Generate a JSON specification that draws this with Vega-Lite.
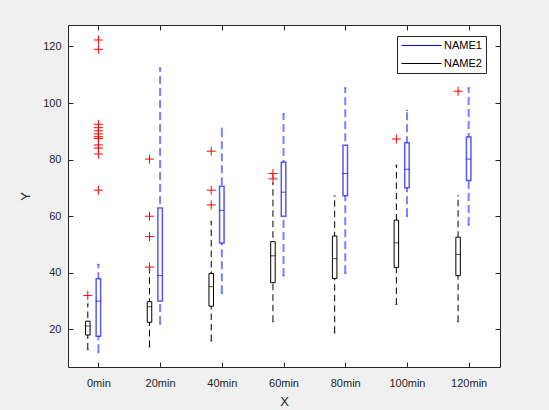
{
  "$schema": "https://vega.github.io/schema/vega-lite/v6.json",
  "width": 432,
  "height": 342,
  "autosize": "none",
  "padding": {"left": 68, "top": 25, "right": 49, "bottom": 43},
  "background": "#f0f0f0",
  "config": {
    "view": {"fill": "white", "stroke": "#262626", "strokeWidth": 1},
    "axis": {
      "domain": false, "grid": false, "ticks": true, "tickSize": -5, "tickColor": "#262626",
      "labelColor": "#262626", "labelFont": "Liberation Sans", "labelFontSize": 11,
      "titleFont": "Liberation Sans", "titleFontSize": 13, "titleColor": "#262626", "titleFontWeight": "normal"
    },
    "legend": {
      "orient": "none", "legendX": 329, "legendY": 11, "title": null,
      "strokeColor": "#262626", "fillColor": "white", "padding": 4,
      "symbolType": "M-4,0H4", "symbolSize": 100, "symbolStrokeWidth": 1, "symbolOpacity": 1,
      "symbolOffset": 15, "labelOffset": 17,
      "labelFont": "Liberation Sans", "labelFontSize": 11, "labelColor": "#000000", "rowPadding": 6
    }
  },
  "datasets": {
    "boxes": [
      {"time": "0min", "group": "NAME2", "lo": 12.9, "q1": 18.0, "med": 21.2, "q3": 22.9, "hi": 29.0},
      {"time": "0min", "group": "NAME1", "lo": 11.9, "q1": 17.6, "med": 30.0, "q3": 37.9, "hi": 43.0},
      {"time": "20min", "group": "NAME2", "lo": 13.8, "q1": 22.5, "med": 28.0, "q3": 29.8, "hi": 41.0},
      {"time": "20min", "group": "NAME1", "lo": 21.9, "q1": 30.0, "med": 39.0, "q3": 62.9, "hi": 112.4},
      {"time": "40min", "group": "NAME2", "lo": 15.9, "q1": 28.2, "med": 35.1, "q3": 39.8, "hi": 58.1},
      {"time": "40min", "group": "NAME1", "lo": 32.8, "q1": 50.5, "med": 62.1, "q3": 70.6, "hi": 91.1},
      {"time": "60min", "group": "NAME2", "lo": 22.7, "q1": 36.5, "med": 46.0, "q3": 51.0, "hi": 71.7},
      {"time": "60min", "group": "NAME1", "lo": 38.9, "q1": 60.0, "med": 68.5, "q3": 79.1, "hi": 96.2},
      {"time": "80min", "group": "NAME2", "lo": 18.8, "q1": 38.0, "med": 45.0, "q3": 53.0, "hi": 67.2},
      {"time": "80min", "group": "NAME1", "lo": 39.8, "q1": 67.2, "med": 75.1, "q3": 85.1, "hi": 105.4},
      {"time": "100min", "group": "NAME2", "lo": 28.8, "q1": 41.9, "med": 50.6, "q3": 58.6, "hi": 78.1},
      {"time": "100min", "group": "NAME1", "lo": 60.0, "q1": 70.1, "med": 76.6, "q3": 86.0, "hi": 97.4},
      {"time": "120min", "group": "NAME2", "lo": 22.7, "q1": 39.0, "med": 46.5, "q3": 52.6, "hi": 67.2},
      {"time": "120min", "group": "NAME1", "lo": 56.9, "q1": 72.6, "med": 80.2, "q3": 88.0, "hi": 105.4}
    ],
    "outliers": [
      {"time": "0min", "group": "NAME2", "value": 32.0},
      {"time": "0min", "group": "NAME1", "value": 122.3},
      {"time": "0min", "group": "NAME1", "value": 119.0},
      {"time": "0min", "group": "NAME1", "value": 92.5},
      {"time": "0min", "group": "NAME1", "value": 91.3},
      {"time": "0min", "group": "NAME1", "value": 90.2},
      {"time": "0min", "group": "NAME1", "value": 89.1},
      {"time": "0min", "group": "NAME1", "value": 88.1},
      {"time": "0min", "group": "NAME1", "value": 87.5},
      {"time": "0min", "group": "NAME1", "value": 85.2},
      {"time": "0min", "group": "NAME1", "value": 84.1},
      {"time": "0min", "group": "NAME1", "value": 82.0},
      {"time": "0min", "group": "NAME1", "value": 69.2},
      {"time": "20min", "group": "NAME2", "value": 80.2},
      {"time": "20min", "group": "NAME2", "value": 60.0},
      {"time": "20min", "group": "NAME2", "value": 52.8},
      {"time": "20min", "group": "NAME2", "value": 42.0},
      {"time": "40min", "group": "NAME2", "value": 83.0},
      {"time": "40min", "group": "NAME2", "value": 69.2},
      {"time": "40min", "group": "NAME2", "value": 64.0},
      {"time": "60min", "group": "NAME2", "value": 75.1},
      {"time": "60min", "group": "NAME2", "value": 73.2},
      {"time": "100min", "group": "NAME2", "value": 87.3},
      {"time": "120min", "group": "NAME2", "value": 104.2}
    ]
  },
  "layer": [
    {
      "encoding": {
        "x": {
          "field": "time", "type": "nominal",
          "scale": {"domain": ["0min", "20min", "40min", "60min", "80min", "100min", "120min"], "paddingInner": 0, "paddingOuter": 0},
          "axis": {"title": "X", "labelAngle": 0, "labelPadding": 15.5, "titlePadding": 6.5, "orient": "bottom"}
        },
        "xOffset": {
          "field": "group", "type": "nominal",
          "scale": {"type": "point", "domain": ["NAME2", "NAME1"], "range": [19.8, 30.4], "padding": 0}
        },
        "y": {"type": "quantitative", "scale": {"domain": [6.7, 127.6], "nice": false, "zero": false},
              "axis": {"title": "Y", "values": [20, 40, 60, 80, 100, 120], "labelPadding": 12, "titlePadding": 10, "orient": "left"}}
      },
      "layer": [
        {
          "data": {"name": "boxes"},
          "mark": {"type": "rule"},
          "encoding": {
            "y": {"field": "lo", "type": "quantitative", "title": "Y"},
            "y2": {"field": "hi"},
            "color": {"field": "group", "type": "nominal", "scale": {"domain": ["NAME1", "NAME2"], "range": ["#0000ff", "#000000"]}},
            "strokeWidth": {"condition": {"test": "datum.group === 'NAME1'", "value": 2}, "value": 1},
            "opacity": {"condition": {"test": "datum.group === 'NAME1'", "value": 0.5}, "value": 1},
            "strokeDash": {"condition": {"test": "datum.group === 'NAME1'", "value": [8, 4]}, "value": [6.5, 4]}
          }
        },
        {
          "data": {"name": "boxes"},
          "mark": {"type": "bar", "width": 4.5, "color": "white"},
          "encoding": {
            "y": {"field": "q1", "type": "quantitative", "title": "Y"},
            "y2": {"field": "q3"}
          }
        },
        {
          "data": {"name": "boxes"},
          "mark": {"type": "bar", "width": 4.5, "filled": false},
          "encoding": {
            "y": {"field": "q1", "type": "quantitative", "title": "Y"},
            "y2": {"field": "q3"},
            "color": {"field": "group", "type": "nominal"},
            "strokeWidth": {"condition": {"test": "datum.group === 'NAME1'", "value": 1.5}, "value": 1},
            "opacity": {"condition": {"test": "datum.group === 'NAME1'", "value": 0.65}, "value": 1}
          }
        },
        {
          "data": {"name": "boxes"},
          "mark": {"type": "tick", "size": 5, "thickness": 1},
          "encoding": {
            "y": {"field": "med", "type": "quantitative", "title": "Y"},
            "color": {"field": "group", "type": "nominal"}
          }
        },
        {
          "data": {"name": "boxes"},
          "mark": {"type": "tick", "size": 2, "thickness": 1},
          "encoding": {
            "y": {"field": "lo", "type": "quantitative", "title": "Y"},
            "color": {"field": "group", "type": "nominal"}
          }
        },
        {
          "data": {"name": "boxes"},
          "mark": {"type": "tick", "size": 2, "thickness": 1},
          "encoding": {
            "y": {"field": "hi", "type": "quantitative", "title": "Y"},
            "color": {"field": "group", "type": "nominal"}
          }
        },
        {
          "data": {"name": "outliers"},
          "mark": {"type": "point", "shape": "M-1,0H1M0,-1V1", "size": 81, "filled": false, "stroke": "#ff0000", "strokeWidth": 1, "opacity": 1},
          "encoding": {
            "y": {"field": "value", "type": "quantitative", "title": "Y"}
          }
        }
      ]
    },
    {
      "data": {"name": "boxes"},
      "mark": {"type": "rule", "opacity": 0},
      "encoding": {
        "x": {"field": "time", "type": "nominal", "axis": {"orient": "top", "labels": false, "title": null}},
        "y": {"field": "lo", "type": "quantitative", "axis": {"orient": "right", "labels": false, "title": null, "values": [20, 40, 60, 80, 100, 120]}}
      }
    }
  ],
  "resolve": {"axis": {"x": "independent", "y": "independent"}}
}
